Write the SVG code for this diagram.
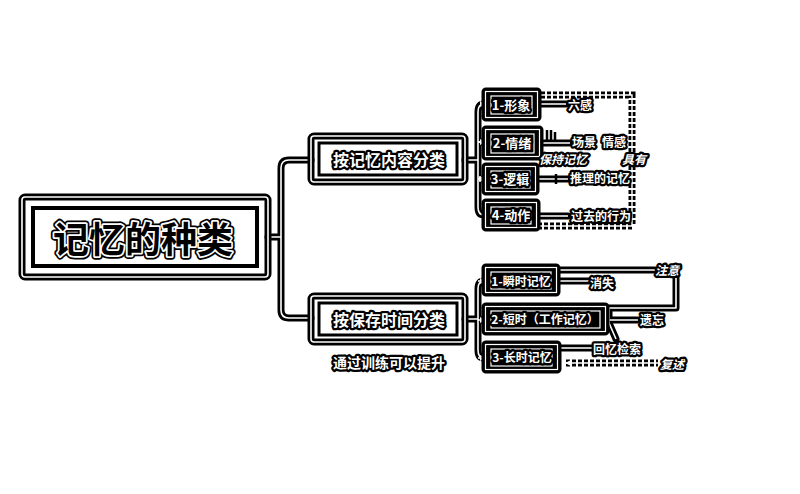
<svg xmlns="http://www.w3.org/2000/svg" width="800" height="494" viewBox="0 0 800 494">
<style>
.k{fill:none;stroke:#000;stroke-width:7;stroke-linejoin:round;stroke-linecap:round}
.w{fill:none;stroke:#fff;stroke-width:1.6;stroke-linejoin:round}
.kd{fill:none;stroke:#000;stroke-width:7;stroke-dasharray:4 2}
.wd{fill:none;stroke:#fff;stroke-width:1.4}
.kt{fill:none;stroke:#000;stroke-width:2.5}
.t{font-family:"Noto Sans CJK SC","Noto Sans",sans-serif;font-weight:700;fill:#fff;stroke:#000;stroke-width:4.5;stroke-linejoin:round;paint-order:stroke;text-anchor:middle}
.it{font-style:italic}
.bx2{fill:#000;stroke:#000;stroke-width:3}
.in{fill:none;stroke:#fff;stroke-width:1.2}
.root{font-family:"Noto Sans CJK SC","Noto Sans",sans-serif;font-weight:700;font-size:36px;text-anchor:middle;stroke-linejoin:round}
</style>
<defs>
<marker id="tip" viewBox="0 0 6 6" refX="5" refY="3" markerWidth="6" markerHeight="6" markerUnits="userSpaceOnUse" orient="auto">
<path d="M0 0 L6 3 L0 6 Z" fill="#fff"/>
</marker>
</defs>
<rect width="800" height="494" fill="#fff"/>

<g id="connectors">
<path class="k" d="M268 237 H281 M311 160 H289 Q281 160 281 168 V310 Q281 318 289 318 H311"/>
<path class="k" d="M465 160 H478 M484 104 Q478 104 478 112 V207 Q478 215 484 215 M478 142 H484 M478 179 H484"/>
<path class="k" d="M465 319 H478 M484 281 Q478 281 478 289 V350 Q478 358 484 358 M478 320 H484"/>
<path class="k" d="M540 104 H566 M542 143 H570 M538 179 H568 M539 216 H568"/>
<path class="k" d="M558 270 H655 M558 281 H590 M608 320 H638 M560 348 H593"/>
<path class="k" d="M676 278 V308 H609 V323 L616 339"/>
<path class="kd" d="M541 95 H632 V226 H486"/>
<path class="kd" d="M566 363 H658"/>
<path class="w" d="M268 237 H281 M311 160 H289 Q281 160 281 168 V310 Q281 318 289 318 H311"/>
<path class="w" d="M465 160 H478 M484 104 Q478 104 478 112 V207 Q478 215 484 215 M478 142 H484 M478 179 H484" marker-end="url(#tip)"/>
<path class="w" d="M478 142 H485" marker-end="url(#tip)"/>
<path class="w" d="M478 179 H485" marker-end="url(#tip)"/>
<path class="w" d="M484 104 H485" marker-end="url(#tip)"/>
<path class="w" d="M465 319 H478 M484 281 Q478 281 478 289 V350 Q478 358 484 358 M478 320 H485" marker-end="url(#tip)"/>
<path class="w" d="M478 281 H485" marker-end="url(#tip)"/>
<path class="w" d="M478 358 H485" marker-end="url(#tip)"/>
<path class="w" d="M540 104 H566 M542 143 H570 M538 179 H568 M539 216 H568"/>
<path class="w" d="M558 270 H655 M558 281 H590 M608 320 H638 M560 348 H593"/>
<path class="w" d="M676 278 V308 H609 V323 L616 339"/>
<path class="wd" d="M541 95 H632 V226 H486"/>
<path class="wd" d="M658 363 H566" marker-end="url(#tip)"/>
<path class="kt" d="M547 130 V140 M551 130 V140 M555 132 V140 M556 174 V184"/>
</g>

<g id="root">
<rect x="22" y="197" width="246" height="80" rx="3" fill="#fff" class="k"/>
<rect x="22" y="197" width="246" height="80" rx="3" class="w"/>
<rect x="33" y="208" width="224" height="58" fill="none" stroke="#000" stroke-width="4"/>
<text x="143" y="253" class="root" fill="none" stroke="#000" stroke-width="7">记忆的种类</text>
<text x="143" y="253" class="root" fill="none" stroke="#fff" stroke-width="3.5">记忆的种类</text>
<text x="143" y="253" class="root" fill="#000">记忆的种类</text>
</g>

<g id="n-content">
<rect x="311" y="136" width="154" height="46" rx="3" fill="#fff" class="k"/>
<rect x="311" y="136" width="154" height="46" rx="3" class="w"/>
<rect x="319" y="143" width="138" height="32" fill="none" stroke="#000" stroke-width="3"/>
<text x="389" y="166" class="t" font-size="16">按记忆内容分类</text>
</g>

<g id="n-time">
<rect x="311" y="296" width="154" height="46" rx="3" fill="#fff" class="k"/>
<rect x="311" y="296" width="154" height="46" rx="3" class="w"/>
<rect x="319" y="303" width="138" height="32" fill="none" stroke="#000" stroke-width="3"/>
<text x="389" y="326" class="t" font-size="16">按保存时间分类</text>
<text x="389" y="368" class="t" font-size="14">通过训练可以提升</text>
</g>

<g id="n-xingxiang">
<rect x="483" y="89" width="57" height="31" rx="3" class="bx2"/>
<rect x="485.5" y="91.5" width="52" height="26" class="in"/>
<rect x="491" y="96" width="41" height="18" class="in"/>
<text x="511" y="110" class="t" font-size="13" stroke-width="2">1-形象</text>
</g>
<g id="n-qingxu">
<rect x="483" y="127" width="59" height="32" rx="3" class="bx2"/>
<rect x="485.5" y="129.5" width="54" height="27" class="in"/>
<rect x="491" y="134" width="43" height="19" class="in"/>
<text x="512" y="148" class="t" font-size="13" stroke-width="2">2-情绪</text>
</g>
<g id="n-luoji">
<rect x="483" y="164" width="55" height="30" rx="3" class="bx2"/>
<rect x="485.5" y="166.5" width="50" height="25" class="in"/>
<rect x="491" y="171" width="39" height="17" class="in"/>
<text x="510" y="184" class="t" font-size="13" stroke-width="2">3-逻辑</text>
</g>
<g id="n-dongzuo">
<rect x="483" y="200" width="56" height="30" rx="3" class="bx2"/>
<rect x="485.5" y="202.5" width="51" height="25" class="in"/>
<rect x="491" y="207" width="40" height="17" class="in"/>
<text x="511" y="220" class="t" font-size="13" stroke-width="2">4-动作</text>
</g>

<g id="n-shunshi">
<rect x="483" y="265" width="76" height="30" rx="3" class="bx2"/>
<rect x="485.5" y="267.5" width="71" height="25" class="in"/>
<rect x="491" y="272" width="60" height="17" class="in"/>
<text x="521" y="286" class="t" font-size="12" stroke-width="2">1-瞬时记忆</text>
</g>
<g id="n-duanshi">
<rect x="483" y="304" width="125" height="30" rx="3" class="bx2"/>
<rect x="485.5" y="306.5" width="120" height="25" class="in"/>
<rect x="491" y="311" width="109" height="17" class="in"/>
<text x="545" y="324" class="t" font-size="12" stroke-width="2">2-短时（工作记忆）</text>
</g>
<g id="n-changshi">
<rect x="483" y="342" width="77" height="30" rx="3" class="bx2"/>
<rect x="485.5" y="344.5" width="72" height="25" class="in"/>
<rect x="491" y="349" width="61" height="17" class="in"/>
<text x="522" y="362" class="t" font-size="12" stroke-width="2">3-长时记忆</text>
</g>

<g id="labels">
<text x="580" y="110" class="t" font-size="12">六感</text>
<text x="584" y="147" class="t" font-size="12">场景</text>
<text x="614" y="147" class="t" font-size="12">情感</text>
<text x="563" y="164" class="t it" font-size="12">保持记忆</text>
<text x="634" y="164" class="t it" font-size="12">具有</text>
<text x="600" y="183" class="t" font-size="12">推理的记忆</text>
<text x="601" y="221" class="t" font-size="12">过去的行为</text>
<text x="602" y="288" class="t" font-size="12">消失</text>
<text x="667" y="275" class="t it" font-size="12">注意</text>
<text x="652" y="325" class="t" font-size="12">遗忘</text>
<text x="617" y="354" class="t" font-size="12">回忆检索</text>
<text x="672" y="369" class="t it" font-size="12">复述</text>
</g>
</svg>
